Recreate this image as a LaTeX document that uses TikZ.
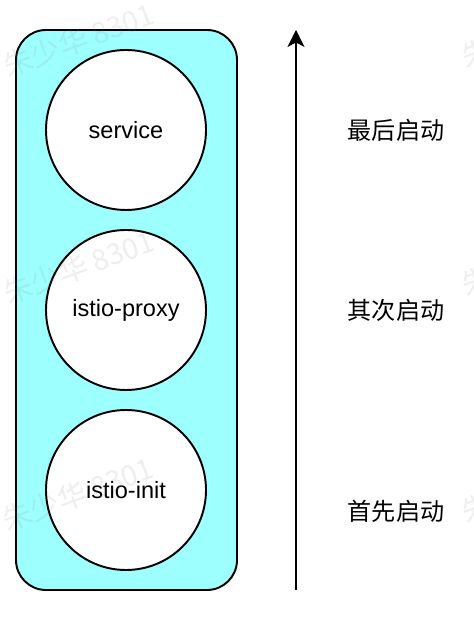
\documentclass[tikz,border=0pt]{standalone}
\usepackage{fontspec}
\setmainfont{Liberation Sans}
\newfontfamily\cjk{Noto Sans CJK SC}
\usetikzlibrary {arrows.meta, positioning}
\definecolor{podcyan}{rgb}{0.62, 1.0, 1.0}

\begin{document}
\begin{tikzpicture} [%
    >= { Stealth[length=0.34cm, width=0.34cm, inset=0.09cm] },
    node distance = 3.6cm,
    on grid,
    container/.style = {%
      circle,
      minimum size = 3.2cm,
      fill = white,
      draw = black,
      line width = 1.1pt,
      font = \fontsize{13.4pt}{16pt}\selectfont },
    phase/.style = {%
      font = \cjk\fontsize{13.7pt}{16pt}\selectfont },
    watermark/.style = {%
      rotate = 20,
      text = gray,
      text opacity = 0.13,
      font = \cjk\fontsize{16.5pt}{18pt}\selectfont }
  ]

  \useasboundingbox (0,0) rectangle (9.48,12.48);

  % pod
  \draw[fill=podcyan, line width=1.1pt, rounded corners=0.6cm]
    (0.32,0.68) rectangle (4.74,11.88);

  \node[container] (S) at (2.52,9.88) {service};
  \node[container] (P) [below=of S] {istio-proxy};
  \node[container] (I) [below=of P] {istio-init};

  % start order
  \coordinate (low)  at (5.92,0.68);
  \coordinate (high) at (5.92,11.88);
  \draw[->, line width=0.8pt] (low) -- (high);

  \node[phase] (last)   [right=5.4cm of S] {最后启动};
  \node[phase] (second) [right=5.4cm of P] {其次启动};
  \node[phase] (first)  [below=4.02cm of second] {首先启动};

  % watermarks
  \begin{scope}
    \clip (0,0) rectangle (9.48,12.48);
    \node[watermark] (w1) at (1.58,11.68) {朱少华 8301};
    \node[watermark] (w2) at (1.58,7.14)  {朱少华 8301};
    \node[watermark] (w3) at (1.56,2.60)  {朱少华 8301};
    \node[watermark] (w4) at (10.74,11.86) {朱少华 8301};
    \node[watermark] (w5) at (10.74,7.30)  {朱少华 8301};
    \node[watermark] (w6) at (10.74,2.76)  {朱少华 8301};
  \end{scope}

\end{tikzpicture}
\end{document}
